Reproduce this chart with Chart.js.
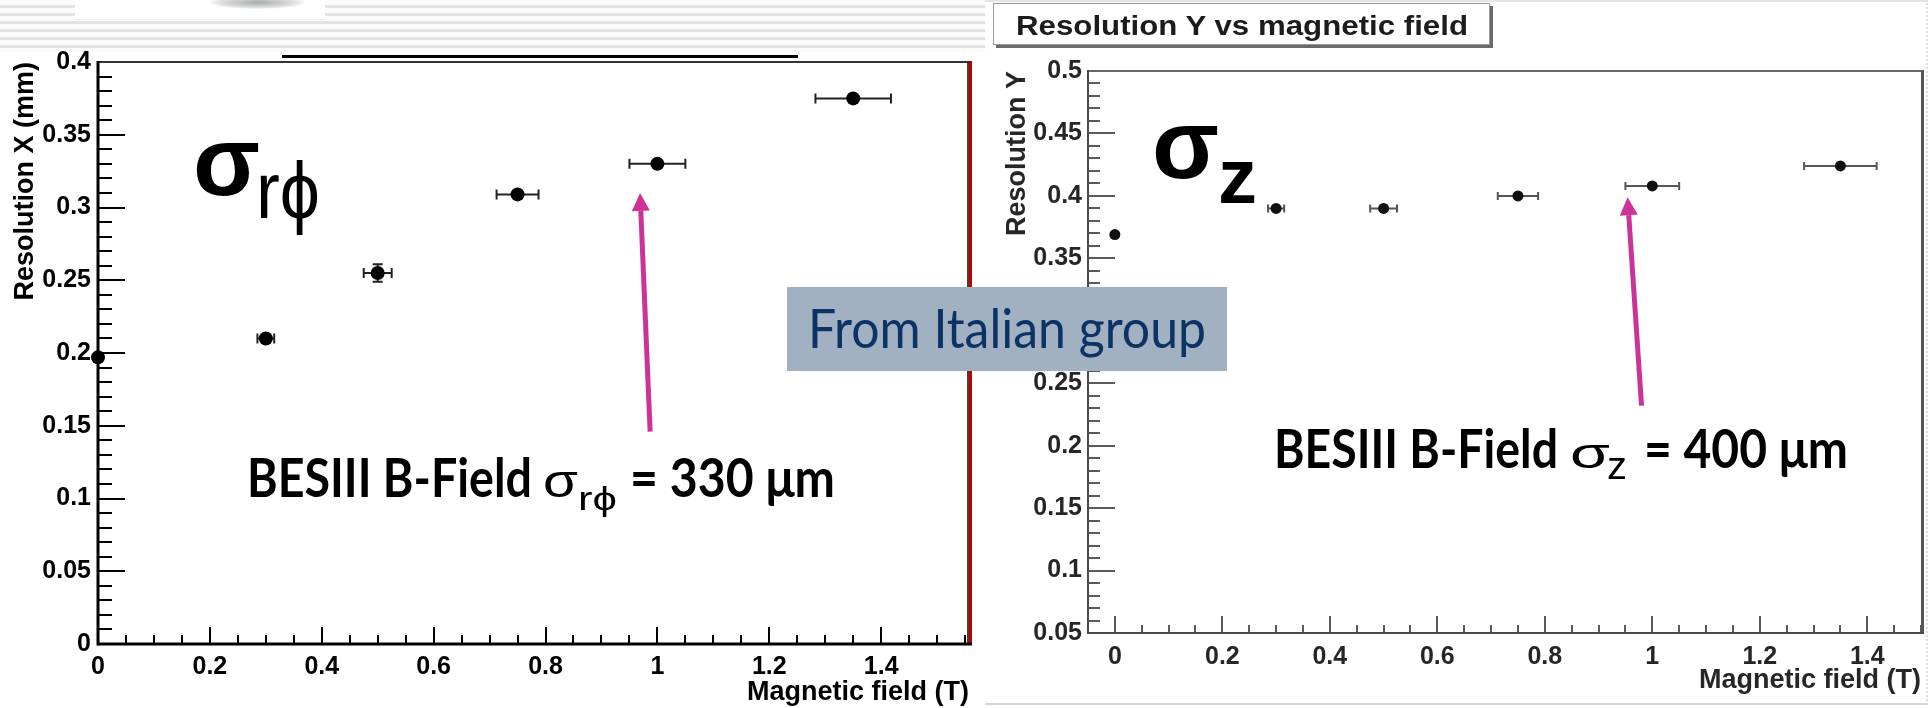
<!DOCTYPE html>
<html>
<head>
<meta charset="utf-8">
<script src="https://cdn.jsdelivr.net/npm/chart.js@4.4.0/dist/chart.umd.min.js"></script>
<style>
html, body { margin: 0; padding: 0; background: #fff; }
#page { position: relative; width: 1930px; height: 708px; overflow: hidden; background: #fff; }
#stripes { position: absolute; left: 0; top: 0; width: 985px; height: 52px;
  background: repeating-linear-gradient(to bottom, #fbfbfb 0, #fbfbfb 5px, #e2e2e2 5px, #e2e2e2 8px); }
#logo { position: absolute; left: 75px; top: 0; width: 250px; height: 19px; background: #fff; border-bottom: 1px solid #eee; }
#scribble { position: absolute; left: 135px; top: -4px; width: 95px; height: 13px; border-radius: 50%;
  background: radial-gradient(ellipse at center, rgba(60,70,60,0.45) 0, rgba(90,100,90,0.2) 55%, rgba(255,255,255,0) 75%); }
#topbar { position: absolute; left: 282px; top: 55px; width: 516px; height: 3px; background: #000; }
#rightpanel { position: absolute; left: 985px; top: 0; width: 941px; height: 701px; background: #fff;
  border-top: 2px solid #e4e4e4; border-bottom: 2px solid #d6d6d6; border-right: 2px dotted #dcdcdc; }
canvas { position: absolute; }
#left-chart { left: 0; top: 0; }
#right-chart { left: 985px; top: 0; }
svg { position: absolute; left: 0; top: 0; }
</style>
</head>
<body>
<div id="page">
  <div id="stripes"></div>
  <div id="logo"><div id="scribble"></div></div>
  <div id="topbar"></div>
  <div id="rightpanel"></div>
  <canvas id="left-chart" width="980" height="708"></canvas>
  <canvas id="right-chart" width="945" height="708"></canvas>
  <svg width="1930" height="708" xmlns="http://www.w3.org/2000/svg">
    <!-- title box of the right pad -->
    <rect x="996" y="6" width="497" height="42" fill="#6a6a6a"/>
    <rect x="993.5" y="3.5" width="496" height="41" fill="#fff" stroke="#9a9a9a" stroke-width="1"/>
    <text x="1016" y="35" font-family="Liberation Sans" font-weight="bold" font-size="27" fill="#1c1c1c"
      textLength="452" lengthAdjust="spacingAndGlyphs">Resolution Y vs magnetic field</text>

    <!-- big sigma labels -->
    <text x="193" y="195" font-family="Liberation Sans" font-weight="bold" font-size="98" fill="#000">σ</text>
    <text x="256" y="218" font-family="Liberation Sans" font-size="80" fill="#000"
      textLength="64" lengthAdjust="spacingAndGlyphs">rϕ</text>
    <text x="1152" y="178" font-family="Liberation Sans" font-weight="bold" font-size="98" fill="#000">σ</text>
    <text x="1218" y="203" font-family="Liberation Sans" font-weight="bold" font-size="78" fill="#000">z</text>

    <!-- BESIII notes -->
    <text x="247" y="497" font-family="Lato" font-weight="bold" font-size="53" fill="#000"
      textLength="285" lengthAdjust="spacingAndGlyphs">BESIII B-Field</text>
    <text x="543" y="497" font-family="Liberation Sans" font-size="46" fill="#000"
      textLength="35" lengthAdjust="spacingAndGlyphs">σ</text>
    <text x="578" y="510" font-family="Liberation Sans" font-size="33" fill="#000"
      textLength="39" lengthAdjust="spacingAndGlyphs">rϕ</text>
    <text x="630" y="497" font-family="Lato" font-weight="bold" font-size="53" fill="#000"
      textLength="205" lengthAdjust="spacingAndGlyphs">= 330 μm</text>

    <text x="1274" y="468" font-family="Lato" font-weight="bold" font-size="53" fill="#000"
      textLength="284" lengthAdjust="spacingAndGlyphs">BESIII B-Field</text>
    <text x="1570" y="468" font-family="Liberation Sans" font-size="42" fill="#000"
      textLength="40" lengthAdjust="spacingAndGlyphs">σ</text>
    <text x="1607" y="479" font-family="Liberation Sans" font-size="38" fill="#000"
      textLength="20" lengthAdjust="spacingAndGlyphs">z</text>
    <text x="1644" y="468" font-family="Lato" font-weight="bold" font-size="53" fill="#000"
      textLength="204" lengthAdjust="spacingAndGlyphs">= 400 μm</text>

    <!-- source box -->
    <rect x="787" y="287" width="440" height="84" fill="#a2b1c2"/>
    <text x="808" y="348" font-family="Lato" font-size="55" fill="#0b3366"
      textLength="398" lengthAdjust="spacingAndGlyphs">From Italian group</text>
  </svg>
</div>
<script>
// left pad: resolution X (r-phi) vs magnetic field
const leftX = [0, 0.3, 0.5, 0.75, 1.0, 1.35];
const leftY = [0.197, 0.210, 0.255, 0.309, 0.330, 0.375];
const leftXErr = [0, 0.015, 0.025, 0.0375, 0.05, 0.0675];
const leftYErr = [0.003, 0.003, 0.006, 0.004, 0.004, 0.004];
const leftXTicks = [0, 0.2, 0.4, 0.6, 0.8, 1.0, 1.2, 1.4];
const leftXLabels = ["0", "0.2", "0.4", "0.6", "0.8", "1", "1.2", "1.4"];
const leftYTicks = [0, 0.05, 0.1, 0.15, 0.2, 0.25, 0.3, 0.35, 0.4];
const leftYLabels = ["0", "0.05", "0.1", "0.15", "0.2", "0.25", "0.3", "0.35", "0.4"];
const leftArrow = [0.987, 0.146, 0.969, 0.310];   // tail x, tail y, tip x, tip y

// right pad: resolution Y (z) vs magnetic field
const rightX = [0, 0.3, 0.5, 0.75, 1.0, 1.35];
const rightY = [0.369, 0.390, 0.390, 0.400, 0.408, 0.424];
const rightXErr = [0, 0.015, 0.025, 0.0375, 0.05, 0.0675];
const rightYErr = [0.001, 0.001, 0.001, 0.001, 0.001, 0.001];
const rightXTicks = [0, 0.2, 0.4, 0.6, 0.8, 1.0, 1.2, 1.4];
const rightXLabels = ["0", "0.2", "0.4", "0.6", "0.8", "1", "1.2", "1.4"];
const rightYTicks = [0.05, 0.1, 0.15, 0.2, 0.25, 0.3, 0.35, 0.4, 0.45, 0.5];
const rightYLabels = ["0.05", "0.1", "0.15", "0.2", "0.25", "0.3", "0.35", "0.4", "0.45", "0.5"];
const rightArrow = [0.980, 0.232, 0.954, 0.399];

// ROOT look: ticks inside the frame, error bars with caps, arrows
const rootFrame = {
    id: 'rootFrame',
    beforeDatasetsDraw(chart, args, o)
    {
        const ctx = chart.ctx;
        const a = chart.chartArea;
        const x = chart.scales.x;
        const y = chart.scales.y;
        ctx.save();

        ctx.strokeStyle = o.tickColor;
        ctx.lineWidth = o.tickWidth;
        ctx.beginPath();
        const nY = Math.floor((y.max - o.yStart) / o.yMinor + 1e-6);
        for(let k = 0; k <= nY; k++)
        {
            const py = Math.round(y.getPixelForValue(o.yStart + k * o.yMinor));
            const len = (k % o.yPerMajor == 0) ? o.yMajorLen : o.yMinorLen;
            ctx.moveTo(a.left, py);
            ctx.lineTo(a.left + len, py);
        }
        const nX = Math.floor((x.max - o.xStart) / o.xMinor + 1e-6);
        for(let k = 0; k <= nX; k++)
        {
            const px = Math.round(x.getPixelForValue(o.xStart + k * o.xMinor));
            const len = (k % o.xPerMajor == 0) ? o.xMajorLen : o.xMinorLen;
            ctx.moveTo(px, a.bottom);
            ctx.lineTo(px, a.bottom - len);
        }
        ctx.stroke();

        function line(x0, y0, x1, y1, color, w)
        {
            ctx.strokeStyle = color;
            ctx.lineWidth = w;
            ctx.beginPath();
            ctx.moveTo(x0, y0);
            ctx.lineTo(x1, y1);
            ctx.stroke();
        }
        line(a.left, a.top, a.right, a.top, o.topColor, o.topWidth);
        if(o.rightInner)
            line(a.right - 1, a.top, a.right - 1, a.bottom, o.rightInner, 1.5);
        line(a.right + o.rightWidth / 2, a.top - 1, a.right + o.rightWidth / 2, a.bottom, o.rightColor, o.rightWidth);
        line(a.left, a.top - 1, a.left, a.bottom + o.axisWidth / 2, o.axisColor, o.axisWidth);
        line(a.left, a.bottom, a.right + o.rightWidth, a.bottom, o.axisColor, o.axisWidth);

        ctx.strokeStyle = o.barColor;
        ctx.lineWidth = o.barWidth;
        chart.data.datasets.forEach((ds, i) => {
            const meta = chart.getDatasetMeta(i);
            ds.data.forEach((p, j) => {
                const px = meta.data[j].x;
                const py = meta.data[j].y;
                const ex = ds.xErr[j];
                const ey = ds.yErr[j];
                ctx.beginPath();
                if(ex > 0)
                {
                    const x0 = x.getPixelForValue(p.x - ex);
                    const x1 = x.getPixelForValue(p.x + ex);
                    ctx.moveTo(x0, py); ctx.lineTo(x1, py);
                    ctx.moveTo(x0, py - o.cap); ctx.lineTo(x0, py + o.cap);
                    ctx.moveTo(x1, py - o.cap); ctx.lineTo(x1, py + o.cap);
                }
                if(ey > 0)
                {
                    const y0 = y.getPixelForValue(p.y - ey);
                    const y1 = y.getPixelForValue(p.y + ey);
                    ctx.moveTo(px, y0); ctx.lineTo(px, y1);
                    if(Math.abs(y1 - y0) / 2 > ds.pointRadius)
                    {
                        ctx.moveTo(px - o.cap, y0); ctx.lineTo(px + o.cap, y0);
                        ctx.moveTo(px - o.cap, y1); ctx.lineTo(px + o.cap, y1);
                    }
                }
                ctx.stroke();
            });
        });
        ctx.restore();
    },
    afterDatasetsDraw(chart, args, o)
    {
        if(!o.arrow) return;
        const ctx = chart.ctx;
        const x = chart.scales.x;
        const y = chart.scales.y;
        const tx = x.getPixelForValue(o.arrow[0]), ty = y.getPixelForValue(o.arrow[1]);
        const hx = x.getPixelForValue(o.arrow[2]), hy = y.getPixelForValue(o.arrow[3]);
        const ang = Math.atan2(hy - ty, hx - tx);
        const headLen = 18, headHalf = 9;
        const bx = hx - headLen * Math.cos(ang), by = hy - headLen * Math.sin(ang);
        ctx.save();
        ctx.strokeStyle = "#cc3399";
        ctx.fillStyle = "#cc3399";
        ctx.lineWidth = 5;
        ctx.beginPath();
        ctx.moveTo(tx, ty);
        ctx.lineTo(bx, by);
        ctx.stroke();
        ctx.beginPath();
        ctx.moveTo(hx, hy);
        ctx.lineTo(bx + headHalf * Math.sin(ang), by - headHalf * Math.cos(ang));
        ctx.lineTo(bx - headHalf * Math.sin(ang), by + headHalf * Math.cos(ang));
        ctx.closePath();
        ctx.fill();
        ctx.restore();
    }
};

function makePad(id, p)
{
    const tickFont = { family: "Liberation Sans", weight: "bold", size: 25 };
    const titleFont = { family: "Liberation Sans", weight: "bold", size: 27, lineHeight: 1 };
    return new Chart(document.getElementById(id), {
        type: 'scatter',
        data: {
            datasets: [{
                data: p.xs.map((v, i) => ({ x: v, y: p.ys[i] })),
                xErr: p.xErr,
                yErr: p.yErr,
                backgroundColor: p.markerColor,
                borderWidth: 0,
                pointRadius: p.radius,
                pointHoverRadius: p.radius,
                clip: false
            }]
        },
        options: {
            responsive: false,
            animation: false,
            events: [],
            layout: { padding: p.padding },
            plugins: {
                legend: { display: false },
                tooltip: { enabled: false },
                rootFrame: p.frame
            },
            scales: {
                x: {
                    type: 'linear',
                    min: p.xMin,
                    max: p.xMax,
                    grid: { display: false, drawTicks: false, tickLength: 0 },
                    border: { display: false },
                    afterFit: s => { s.height = p.xAxisHeight; },
                    afterBuildTicks: s => { s.ticks = p.xTicks.map(v => ({ value: v })); },
                    ticks: {
                        autoSkip: false, maxRotation: 0, padding: p.xTickPad,
                        color: p.textColor, font: tickFont,
                        callback: (v, i) => p.xLabels[i]
                    },
                    title: {
                        display: true, text: 'Magnetic field (T)', align: 'end',
                        color: p.textColor, font: titleFont,
                        padding: { top: 0, bottom: p.xTitlePad }
                    }
                },
                y: {
                    type: 'linear',
                    min: p.yMin,
                    max: p.yMax,
                    grid: { display: false, drawTicks: false, tickLength: 0 },
                    border: { display: false },
                    afterFit: s => { s.width = p.yAxisWidth; },
                    afterBuildTicks: s => { s.ticks = p.yTicks.map(v => ({ value: v })); },
                    ticks: {
                        autoSkip: false, padding: p.yTickPad,
                        color: p.textColor, font: tickFont,
                        callback: (v, i) => p.yLabels[i]
                    },
                    title: {
                        display: true, text: p.yTitle, align: 'end',
                        color: p.textColor, font: titleFont,
                        padding: { top: p.yTitlePad, bottom: 0 }
                    }
                }
            }
        },
        plugins: [rootFrame]
    });
}

makePad('left-chart', {
    xs: leftX, ys: leftY, xErr: leftXErr, yErr: leftYErr,
    xTicks: leftXTicks, xLabels: leftXLabels, yTicks: leftYTicks, yLabels: leftYLabels,
    xMin: 0, xMax: 1.557, yMin: 0, yMax: 0.4,
    yTitle: 'Resolution X (mm)',
    markerColor: '#000', radius: 7, textColor: '#000',
    padding: { left: 0, top: 62, right: 11, bottom: 0 },
    xAxisHeight: 64, yAxisWidth: 98,
    xTickPad: 8, yTickPad: 7, xTitlePad: 1.5, yTitlePad: 12.5,
    frame: {
        tickColor: '#000', tickWidth: 2,
        yStart: 0, yMinor: 0.01, yPerMajor: 5, yMajorLen: 27, yMinorLen: 14,
        xStart: 0, xMinor: 0.05, xPerMajor: 4, xMajorLen: 17, xMinorLen: 9,
        topColor: '#333', topWidth: 2,
        rightColor: '#c00000', rightWidth: 3, rightInner: '#000',
        axisColor: '#000', axisWidth: 3,
        barColor: '#222', barWidth: 2, cap: 5,
        arrow: leftArrow
    }
});

makePad('right-chart', {
    xs: rightX, ys: rightY, xErr: rightXErr, yErr: rightYErr,
    xTicks: rightXTicks, xLabels: rightXLabels, yTicks: rightYTicks, yLabels: rightYLabels,
    xMin: -0.05, xMax: 1.5, yMin: 0.05, yMax: 0.5,
    yTitle: 'Resolution Y',
    markerColor: '#111', radius: 5.5, textColor: '#262626',
    padding: { left: 0, top: 71, right: 9, bottom: 0 },
    xAxisHeight: 75, yAxisWidth: 103,
    xTickPad: 9, yTickPad: 6, xTitlePad: 13.5, yTitlePad: 19,
    frame: {
        tickColor: '#5a5a5a', tickWidth: 2,
        yStart: 0.05, yMinor: 0.01, yPerMajor: 5, yMajorLen: 27, yMinorLen: 12,
        xStart: 0, xMinor: 0.05, xPerMajor: 4, xMajorLen: 17, xMinorLen: 8,
        topColor: '#666', topWidth: 2,
        rightColor: '#555', rightWidth: 3, rightInner: null,
        axisColor: '#4a4a4a', axisWidth: 2,
        barColor: '#555', barWidth: 2, cap: 4,
        arrow: rightArrow
    }
});
</script>
</body>
</html>
